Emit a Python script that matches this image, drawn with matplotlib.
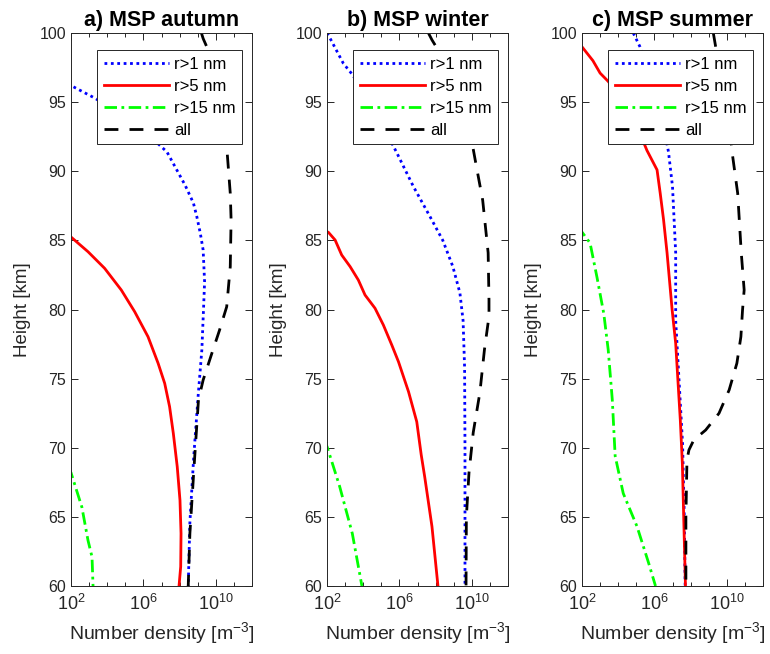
import matplotlib
matplotlib.use("Agg")
import matplotlib.pyplot as plt
from matplotlib.ticker import FixedLocator, NullFormatter

plt.rcParams["font.family"] = ["Liberation Sans", "DejaVu Sans"]
plt.rcParams["mathtext.default"] = "regular"

# ---- data, heights in km, densities in m^-3 ----
# a) autumn
a_h_r1 = [97.0, 96.2, 95.3, 94.0, 92.6, 91.4, 89.0, 87.7, 86.7, 85.5, 84.3, 82.0, 80.7, 77.1, 73.7, 69.3, 64.6, 60.0]
a_n_r1 = [8e0, 1e2, 2e3, 8e4, 2e6, 2e7, 2e8, 5.8e8, 9e8, 1.4e9, 2e9, 2.4e9, 2.2e9, 1.7e9, 1.05e9, 6e8, 3.7e8, 3e8]
a_h_r5 = [85.6, 85.22, 84.18, 82.98, 81.41, 79.84, 78.03, 76.11, 74.66, 72.97, 71.04, 68.63, 66.2, 63.8, 61.4, 60.0]
a_n_r5 = [4e1, 1.05e2, 8.7e2, 7.2e3, 6e4, 3.3e5, 1.8e6, 6.5e6, 1.5e7, 2.8e7, 4.5e7, 7.4e7, 1.05e8, 1.2e8, 1.15e8, 9.3e7]
a_h_r15 = [68.6, 68.2, 65.7, 63.3, 62.1, 60.0]
a_n_r15 = [6e1, 1e2, 4e2, 8.7e2, 1.45e3, 1.65e3]
a_h_all = [100.0, 99.6, 98.8, 95.0, 91.8, 88.4, 86.5, 83.1, 80.2, 78.5, 76.9, 74.9, 73.45, 68.63, 63.8, 60.0]
a_n_all = [1.6e9, 2e9, 3.7e9, 2e10, 4e10, 6.3e10, 7e10, 6.3e10, 4e10, 1.6e10, 6.3e9, 2e9, 1.1e9, 6.3e8, 3.7e8, 3e8]

# b) winter
b_h_r1 = [100.0, 99.6, 97.8, 97.0, 95.0, 93.0, 91.3, 88.9, 86.7, 85.0, 83.1, 81.2, 79.2, 75.8, 70.0, 60.0]
b_n_r1 = [1e2, 1.5e2, 8e2, 2.5e3, 2.5e4, 1.6e5, 7.4e5, 5.9e6, 5e7, 2.5e8, 9e8, 2.2e9, 3.3e9, 4e9, 4.2e9, 4.2e9]
b_h_r5 = [86.0, 85.58, 85.03, 83.94, 83.1, 82.13, 81.05, 80.09, 78.88, 77.43, 76.22, 74.05, 71.88, 69.5, 67.9, 64.3, 60.0]
b_n_r5 = [3e1, 1.2e2, 2.8e2, 6.5e2, 1.9e3, 5.4e3, 1.26e4, 4.5e4, 1.3e5, 3.8e5, 8.9e5, 3.2e6, 9.1e6, 1.6e7, 2.5e7, 6.3e7, 1.35e8]
b_h_r15 = [70.5, 70.1, 67.2, 63.8, 60.0]
b_n_r15 = [5e1, 1e2, 5e2, 2.5e3, 8.5e3]
b_h_all = [100.0, 99.5, 98.9, 95.0, 92.5, 90.7, 87.9, 84.1, 80.7, 79.5, 77.1, 74.0, 71.1, 68.2, 65.0, 60.0]
b_n_all = [4e7, 6.3e7, 1.2e8, 2.5e9, 9e9, 1.6e10, 4e10, 8e10, 8.9e10, 8.9e10, 5e10, 2.8e10, 1.2e10, 7e9, 5e9, 4.8e9]

# c) summer
c_h_r1 = [100.0, 99.0, 97.0, 95.0, 93.0, 91.4, 88.9, 84.1, 79.2, 75.8, 70.3, 65.0, 60.0]
c_n_r1 = [6.8e4, 1.6e5, 6.3e5, 1.6e6, 3.5e6, 6e6, 1e7, 1.5e7, 1.5e7, 2.1e7, 3.6e7, 4.5e7, 5e7]
c_h_r5 = [99.3, 99.0, 98.0, 97.1, 96.5, 95.0, 93.0, 91.5, 90.1, 88.4, 86.5, 84.1, 80.0, 77.55, 72.0, 68.87, 60.0]
c_n_r5 = [4e1, 1e2, 4e2, 1e3, 2.8e3, 2e4, 1.3e5, 3.9e5, 1.4e6, 2.1e6, 3.2e6, 5e6, 9.5e6, 1.5e7, 2.7e7, 3.5e7, 5.2e7]
c_h_r15 = [86.0, 85.6, 84.8, 82.3, 79.7, 77.1, 73.5, 69.4, 66.7, 64.3, 61.7, 60.0]
c_n_r15 = [5e1, 1e2, 2.8e2, 6.8e2, 1.6e3, 2.8e3, 4.7e3, 6.8e3, 1.9e4, 1.1e5, 4.7e5, 1.15e6]
c_h_all = [100.0, 98.9, 95.0, 91.3, 88.4, 84.1, 81.41, 79.96, 78.03, 76.11, 74.18, 72.49, 71.28, 70.56, 69.84, 69.11, 65.0, 60.0]
c_n_all = [1.8e9, 2.5e9, 1e10, 2e10, 4e10, 6.3e10, 9.1e10, 7.4e10, 6e10, 3.6e10, 1.35e10, 3.7e9, 6.8e8, 1.5e8, 8.1e7, 6.3e7, 5.5e7, 5.5e7]

titulos = ["a) MSP autumn", "b) MSP winter", "c) MSP summer"]
rotulos = ["r>1 nm", "r>5 nm", "r>15 nm", "all"]

paineis = [
    [(a_n_r1, a_h_r1), (a_n_r5, a_h_r5), (a_n_r15, a_h_r15), (a_n_all, a_h_all)],
    [(b_n_r1, b_h_r1), (b_n_r5, b_h_r5), (b_n_r15, b_h_r15), (b_n_all, b_h_all)],
    [(c_n_r1, c_h_r1), (c_n_r5, c_h_r5), (c_n_r15, c_h_r15), (c_n_all, c_h_all)],
]

estilos = [
    dict(color="#0000ff", linestyle=(0, (1, 1.3))),
    dict(color="#ff0000", linestyle="-"),
    dict(color="#00ff00", linestyle=(0, (4.5, 1.6, 1, 1.6))),
    dict(color="#000000", linestyle=(0, (5, 4))),
]

COR_EIXO = "#262626"

fig = plt.figure(figsize=(7.70, 6.54), dpi=100)
esquerdas = [71 / 770, 327 / 770, 582 / 770]
for i, esq in enumerate(esquerdas):
    ax = fig.add_axes([esq, 68 / 654, 181 / 770, 553 / 654])
    for (n, h), est, rot in zip(paineis[i], estilos, rotulos):
        ax.plot(n, h, linewidth=2, label=rot, **est)

    ax.set_xscale("log")
    ax.set_xlim(1e2, 1e12)
    ax.set_ylim(60, 100)
    ax.xaxis.set_major_locator(FixedLocator([1e2, 1e6, 1e10]))
    ax.xaxis.set_minor_locator(FixedLocator([10.0 ** k for k in range(2, 13)]))
    ax.xaxis.set_minor_formatter(NullFormatter())
    ax.set_xticklabels(["$10^{2}$", "$10^{6}$", "$10^{10}$"])
    ax.set_yticks(range(60, 101, 5))

    ax.tick_params(which="both", direction="in", top=True, right=True,
                   colors=COR_EIXO, labelsize=11.5, width=0.7)
    ax.tick_params(axis="x", which="major", labelsize=13, pad=6)
    ax.tick_params(which="major", length=5)
    ax.tick_params(which="minor", length=3)
    for lado in ax.spines.values():
        lado.set_color(COR_EIXO)
        lado.set_linewidth(0.7)

    ax.set_title(titulos[i], fontsize=15.5, fontweight="bold", pad=5)
    ax.set_xlabel("Number density [m$^{-3}$]", fontsize=14, color=COR_EIXO, labelpad=4)
    ax.set_ylabel("Height [km]", fontsize=13.5, color=COR_EIXO, labelpad=6)

    leg = ax.legend(loc="upper right", bbox_to_anchor=(0.945, 0.969), fontsize=12,
                    handlelength=3.9, handletextpad=0.3, labelspacing=0.42,
                    borderpad=0.4, borderaxespad=0, fancybox=False, framealpha=1)
    leg.get_frame().set_edgecolor(COR_EIXO)
    leg.get_frame().set_linewidth(0.7)

fig.savefig("out.png", dpi=100, facecolor="white")
